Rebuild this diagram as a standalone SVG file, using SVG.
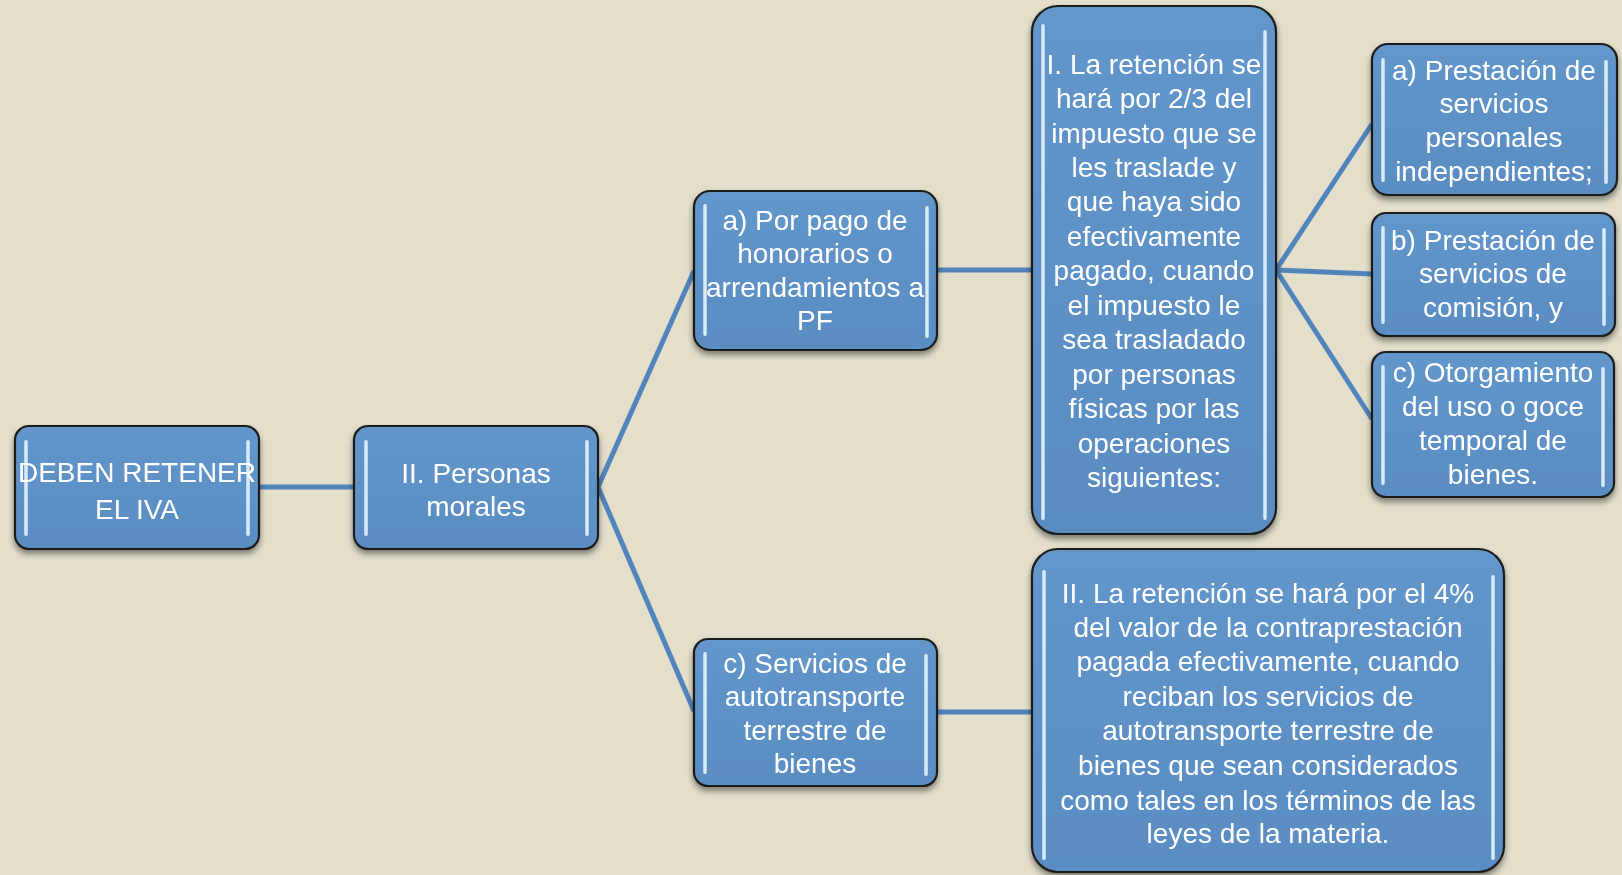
<svg xmlns="http://www.w3.org/2000/svg" width="1622" height="875" viewBox="0 0 1622 875">
<defs>
<filter id="sh" x="-10%" y="-10%" width="120%" height="125%">
<feGaussianBlur in="SourceAlpha" stdDeviation="3"/>
<feOffset dx="0" dy="4" result="b"/>
<feComponentTransfer><feFuncA type="linear" slope="0.45"/></feComponentTransfer>
<feMerge><feMergeNode/><feMergeNode in="SourceGraphic"/></feMerge>
</filter>
<filter id="glow" x="-200%" y="-5%" width="500%" height="110%">
<feGaussianBlur stdDeviation="1.2"/>
</filter>
<linearGradient id="fillg" x1="0" y1="0" x2="0" y2="1">
<stop offset="0" stop-color="#6396CA"/>
<stop offset="0.5" stop-color="#5E92C6"/>
<stop offset="1" stop-color="#5A8DC2"/>
</linearGradient>
<linearGradient id="hl" x1="0" y1="0" x2="1" y2="0">
<stop offset="0" stop-color="#A9CDF0"/>
<stop offset="0.5" stop-color="#F4FAFF"/>
<stop offset="1" stop-color="#A9CDF0"/>
</linearGradient>
</defs>
<style>
.box{fill:url(#fillg);stroke:#1E1E1E;stroke-width:2.2}
.hl{fill:url(#hl);opacity:0.95}
.t{font-family:"Liberation Sans",Arial,sans-serif;font-size:28px;fill:#FFFFFF;text-anchor:middle}
.c{stroke:#5284BC;stroke-width:5;fill:none;stroke-linecap:butt}
</style>
<rect width="1622" height="875" fill="#E3DFCB"/>
<g id="connectors">
<line class="c" x1="259" y1="487" x2="354" y2="487"/>
<line class="c" x1="598" y1="487" x2="694" y2="271"/>
<line class="c" x1="598" y1="487" x2="694" y2="711"/>
<line class="c" x1="936" y1="270" x2="1032" y2="270"/>
<line class="c" x1="1276" y1="270" x2="1372" y2="124"/>
<line class="c" x1="1276" y1="270" x2="1372" y2="274"/>
<line class="c" x1="1276" y1="270" x2="1372" y2="419"/>
<line class="c" x1="936" y1="712" x2="1032" y2="712"/>
</g>
<g id="n1" filter="url(#sh)">
<rect class="box" x="15" y="426" width="244" height="123" rx="14"/>
<rect class="hl" x="24" y="440" width="4" height="96" rx="2"/>
<rect class="hl" x="246" y="440" width="4" height="96" rx="2"/>
<text class="t" x="137" y="482">DEBEN RETENER</text>
<text class="t" x="137" y="519">EL IVA</text>
</g>
<g id="n2" filter="url(#sh)">
<rect class="box" x="354" y="426" width="244" height="123" rx="14"/>
<rect class="hl" x="364" y="440" width="4" height="96" rx="2"/>
<rect class="hl" x="585" y="440" width="4" height="96" rx="2"/>
<text class="t" x="476" y="483">II. Personas</text>
<text class="t" x="476" y="516">morales</text>
</g>
<g id="n3" filter="url(#sh)">
<rect class="box" x="694" y="191" width="243" height="159" rx="16"/>
<rect class="hl" x="703" y="204" width="4" height="132" rx="2"/>
<rect class="hl" x="925" y="206" width="4" height="132" rx="2"/>
<text class="t" x="815" y="230">a) Por pago de</text>
<text class="t" x="815" y="263">honorarios o</text>
<text class="t" x="815" y="297">arrendamientos a</text>
<text class="t" x="815" y="330">PF</text>
</g>
<g id="n4" filter="url(#sh)">
<rect class="box" x="694" y="639" width="243" height="147" rx="14"/>
<rect class="hl" x="703" y="652" width="4" height="122" rx="2"/>
<rect class="hl" x="924" y="654" width="4" height="122" rx="2"/>
<text class="t" x="815" y="673">c) Servicios de</text>
<text class="t" x="815" y="706">autotransporte</text>
<text class="t" x="815" y="740">terrestre de</text>
<text class="t" x="815" y="773">bienes</text>
</g>
<g id="n5" filter="url(#sh)">
<rect class="box" x="1032" y="6" width="244" height="528" rx="26"/>
<rect class="hl" x="1041" y="24" width="4" height="496" rx="2"/>
<rect class="hl" x="1263" y="30" width="4" height="490" rx="2"/>
<text class="t" x="1154" y="74">I. La retención se</text>
<text class="t" x="1154" y="108">hará por 2/3 del</text>
<text class="t" x="1154" y="143">impuesto que se</text>
<text class="t" x="1154" y="177">les traslade y</text>
<text class="t" x="1154" y="211">que haya sido</text>
<text class="t" x="1154" y="246">efectivamente</text>
<text class="t" x="1154" y="280">pagado, cuando</text>
<text class="t" x="1154" y="315">el impuesto le</text>
<text class="t" x="1154" y="349">sea trasladado</text>
<text class="t" x="1154" y="384">por personas</text>
<text class="t" x="1154" y="418">físicas por las</text>
<text class="t" x="1154" y="453">operaciones</text>
<text class="t" x="1154" y="487">siguientes:</text>
</g>
<g id="n6" filter="url(#sh)">
<rect class="box" x="1372" y="44" width="245" height="151" rx="16"/>
<rect class="hl" x="1381" y="58" width="4" height="124" rx="2"/>
<rect class="hl" x="1604" y="60" width="4" height="124" rx="2"/>
<text class="t" x="1494" y="80">a) Prestación de</text>
<text class="t" x="1494" y="113">servicios</text>
<text class="t" x="1494" y="147">personales</text>
<text class="t" x="1494" y="181">independientes;</text>
</g>
<g id="n7" filter="url(#sh)">
<rect class="box" x="1372" y="213" width="243" height="123" rx="14"/>
<rect class="hl" x="1381" y="226" width="4" height="98" rx="2"/>
<rect class="hl" x="1602" y="228" width="4" height="98" rx="2"/>
<text class="t" x="1493" y="250">b) Prestación de</text>
<text class="t" x="1493" y="283">servicios de</text>
<text class="t" x="1493" y="317">comisión, y</text>
</g>
<g id="n8" filter="url(#sh)">
<rect class="box" x="1372" y="352" width="242" height="145" rx="14"/>
<rect class="hl" x="1381" y="365" width="4" height="120" rx="2"/>
<rect class="hl" x="1601" y="367" width="4" height="120" rx="2"/>
<text class="t" x="1493" y="382">c) Otorgamiento</text>
<text class="t" x="1493" y="416">del uso o goce</text>
<text class="t" x="1493" y="450">temporal de</text>
<text class="t" x="1493" y="484">bienes.</text>
</g>
<g id="n9" filter="url(#sh)">
<rect class="box" x="1032" y="549" width="472" height="323" rx="26"/>
<rect class="hl" x="1042" y="570" width="4" height="290" rx="2"/>
<rect class="hl" x="1491" y="575" width="4" height="285" rx="2"/>
<text class="t" x="1268" y="603">II. La retención se hará por el 4%</text>
<text class="t" x="1268" y="637">del valor de la contraprestación</text>
<text class="t" x="1268" y="671">pagada efectivamente, cuando</text>
<text class="t" x="1268" y="706">reciban los servicios de</text>
<text class="t" x="1268" y="740">autotransporte terrestre de</text>
<text class="t" x="1268" y="775">bienes que sean considerados</text>
<text class="t" x="1268" y="810">como tales en los términos de las</text>
<text class="t" x="1268" y="843">leyes de la materia.</text>
</g>
</svg>
